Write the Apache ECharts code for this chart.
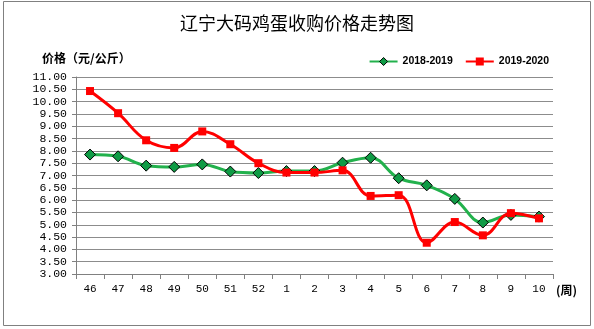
<!DOCTYPE html>
<html>
<head>
<meta charset="utf-8">
<script src="https://cdn.jsdelivr.net/npm/echarts@6/dist/echarts.min.js"></script>
<style>
  html, body { margin: 0; padding: 0; background: #fff; }
  #chart { width: 594px; height: 329px; }
</style>
</head>
<body>
<div id="chart"></div>
<script>
// Weekly purchase price of large eggs in Liaoning (yuan/kg)
const weeks = ['46', '47', '48', '49', '50', '51', '52', '1', '2', '3', '4', '5', '6', '7', '8', '9', '10'];
const season2018 = [7.85, 7.78, 7.40, 7.35, 7.45, 7.16, 7.10, 7.18, 7.18, 7.52, 7.72, 6.89, 6.60, 6.05, 5.09, 5.40, 5.33];
const season2019 = [10.43, 9.53, 8.43, 8.12, 8.79, 8.27, 7.50, 7.12, 7.12, 7.21, 6.17, 6.20, 4.27, 5.11, 4.57, 5.47, 5.26];
const yMin = 3, yMax = 11, yStep = 0.5;

const chart = echarts.init(document.getElementById('chart'));
const monoFont = '"Liberation Mono", "DejaVu Sans Mono", monospace';
const cjkFont = '"Noto Sans CJK SC", sans-serif';

chart.setOption({
  animation: false,
  backgroundColor: '#fff',
  title: [
    {
      text: '辽宁大码鸡蛋收购价格走势图',
      left: 'center',
      top: 9,
      textStyle: { fontFamily: cjkFont, fontSize: 18, fontWeight: 'normal', color: '#000' }
    },
    {
      text: '价格（元/公斤）',
      left: 37,
      top: 47,
      textStyle: { fontFamily: cjkFont, fontSize: 12, fontWeight: 'bold', color: '#000' }
    }
  ],
  legend: {
    right: 40,
    top: 51,
    itemWidth: 28,
    itemHeight: 10,
    itemGap: 12,
    textStyle: { fontFamily: '"Liberation Sans", Arial, sans-serif', fontSize: 10.5, fontWeight: 'bold', color: '#000' },
    data: [
      { name: '2018-2019', itemStyle: { borderWidth: 1, borderColor: '#000' } },
      { name: '2019-2020', itemStyle: { borderWidth: 0 } }
    ]
  },
  grid: { left: 76, right: 41, top: 77, bottom: 55 },
  xAxis: {
    type: 'category',
    data: weeks,
    boundaryGap: true,
    name: '(周)',
    nameLocation: 'end',
    nameGap: 3,
    nameTextStyle: {
      fontFamily: cjkFont, fontSize: 12, fontWeight: 'bold', color: '#000',
      verticalAlign: 'top', padding: [10, 0, 0, 0]
    },
    axisLine: { lineStyle: { color: '#808080', width: 1 } },
    axisTick: { show: true, length: 5, lineStyle: { color: '#808080' } },
    axisLabel: { fontFamily: monoFont, fontSize: 11, color: '#000', margin: 10, interval: 0 },
    splitLine: { show: false }
  },
  yAxis: {
    type: 'value',
    min: yMin,
    max: yMax,
    interval: yStep,
    axisLine: { show: true, lineStyle: { color: '#808080', width: 1 } },
    axisTick: { show: true, length: 4, lineStyle: { color: '#808080' } },
    axisLabel: {
      fontFamily: monoFont, fontSize: 11.5, color: '#000', margin: 9,
      formatter: v => v.toFixed(2)
    },
    splitLine: { show: true, lineStyle: { color: '#8c8c8c', width: 1 } }
  },
  series: [
    {
      name: '2018-2019',
      type: 'line',
      data: season2018,
      smooth: 0.4,
      symbol: 'diamond',
      symbolSize: 11,
      lineStyle: { color: '#22b14c', width: 3 },
      itemStyle: { color: '#0f9b45', borderColor: '#000', borderWidth: 1 },
      z: 2
    },
    {
      name: '2019-2020',
      type: 'line',
      data: season2019,
      smooth: 0.4,
      symbol: 'rect',
      symbolSize: 8,
      lineStyle: { color: '#ff0000', width: 3 },
      itemStyle: { color: '#ff0000' },
      z: 3
    }
  ],
  graphic: [
    {
      type: 'rect',
      silent: true,
      shape: { x: 3.5, y: 1.5, width: 587, height: 324 },
      style: { fill: 'none', stroke: '#808080', lineWidth: 1 }
    }
  ]
});
</script>
</body>
</html>
